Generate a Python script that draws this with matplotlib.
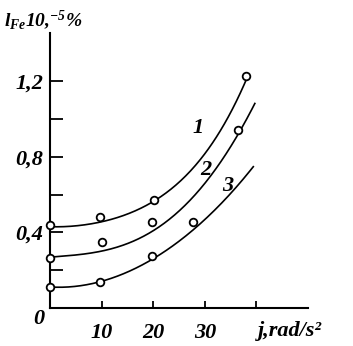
import numpy as np
import matplotlib
matplotlib.use('Agg')
import matplotlib.pyplot as plt

plt.rcParams['font.family'] = ['Liberation Serif', 'DejaVu Serif']
plt.rcParams['mathtext.fontset'] = 'custom'
plt.rcParams['mathtext.rm'] = 'Liberation Serif:bold:italic'
plt.rcParams['mathtext.it'] = 'Liberation Serif:bold:italic'
plt.rcParams['mathtext.bf'] = 'Liberation Serif:bold:italic'

# measured points (j, rad/s^2 -> l_Fe, 10^-5 %)
pts_j1 = [0, 9.7, 20.2, 38.0]
pts_y1 = [0.44, 0.48, 0.57, 1.23]
pts_j2 = [0, 10.1, 19.8, 36.4]
pts_y2 = [0.263, 0.351, 0.457, 0.942]
pts_j3 = [0, 9.7, 19.7, 27.8]
pts_y3 = [0.113, 0.139, 0.275, 0.453]

# curves
fit_j1 = [0, 5, 10, 15, 20, 25, 30, 35, 38.2]
fit_y1 = [0.43, 0.435, 0.455, 0.50, 0.56, 0.665, 0.82, 1.03, 1.22]
fit_j2 = [0, 5, 10, 15, 20, 25, 30, 35, 39.7]
fit_y2 = [0.27, 0.278, 0.30, 0.345, 0.41, 0.51, 0.655, 0.86, 1.08]
fit_j3 = [0, 5, 10, 15, 20, 25, 30, 35, 39.4]
fit_y3 = [0.11, 0.118, 0.14, 0.19, 0.255, 0.36, 0.47, 0.60, 0.75]

curve_labels = ['1', '2', '3']
label_pos = [(28.7, 0.95), (30.2, 0.73), (34.5, 0.645)]

x_ticks = [10, 20, 30, 40]
x_ticklabels = ['10', '20', '30', '']
y_ticks = [0.2, 0.4, 0.6, 0.8, 1.0, 1.2]
y_ticklabels = ['', '0,4', '', '0,8', '', '1,2']

FS = 16

fig = plt.figure(figsize=(3.53, 3.46), dpi=100)
ax = fig.add_axes([50 / 353, 38 / 346, 258 / 353, 275 / 346])

for fj, fy in [(fit_j1, fit_y1), (fit_j2, fit_y2), (fit_j3, fit_y3)]:
    c = np.polyfit(fj, fy, 4)
    xs = np.linspace(fj[0], fj[-1], 200)
    ax.plot(xs, np.polyval(c, xs), color='black', lw=1.2, clip_on=False)

for pj, py in [(pts_j1, pts_y1), (pts_j2, pts_y2), (pts_j3, pts_y3)]:
    ax.plot(pj, py, 'o', ms=5.5, mfc='white', mec='black', mew=1.3,
            clip_on=False, zorder=3)

for lab, (lx, ly) in zip(curve_labels, label_pos):
    ax.text(lx, ly, lab, fontsize=FS, fontweight='bold', fontstyle='italic',
            ha='center', va='center')

ax.set_xlim(0, 50)
ax.set_ylim(0, 1.455)
ax.spines['top'].set_visible(False)
ax.spines['right'].set_visible(False)
ax.spines['left'].set_linewidth(1.5)
ax.spines['bottom'].set_linewidth(1.5)

ax.set_xticks(x_ticks)
ax.set_xticklabels(x_ticklabels)
ax.set_yticks(y_ticks)
ax.set_yticklabels(y_ticklabels)
ax.tick_params(axis='y', direction='in', length=9, width=1.3, pad=5)
ax.tick_params(axis='x', direction='in', length=5, width=1.3, pad=11)
for t in ax.get_xticklabels() + ax.get_yticklabels():
    t.set_fontsize(FS)
    t.set_fontweight('bold')
    t.set_fontstyle('italic')

ax.text(-0.043, -0.04, '0', transform=ax.transAxes, fontsize=FS,
        fontweight='bold', fontstyle='italic', ha='center', va='center')

fig.text(4 / 353, 1 - 20 / 346, r'$l_{Fe}10{,}^{-5}\%$', fontsize=14,
         ha='left', va='center')
fig.text(258 / 353, 1 - 331 / 346, 'j,rad/s²', fontsize=FS,
         fontweight='bold', fontstyle='italic', ha='left', va='center')

fig.savefig('out.png', dpi=100)
